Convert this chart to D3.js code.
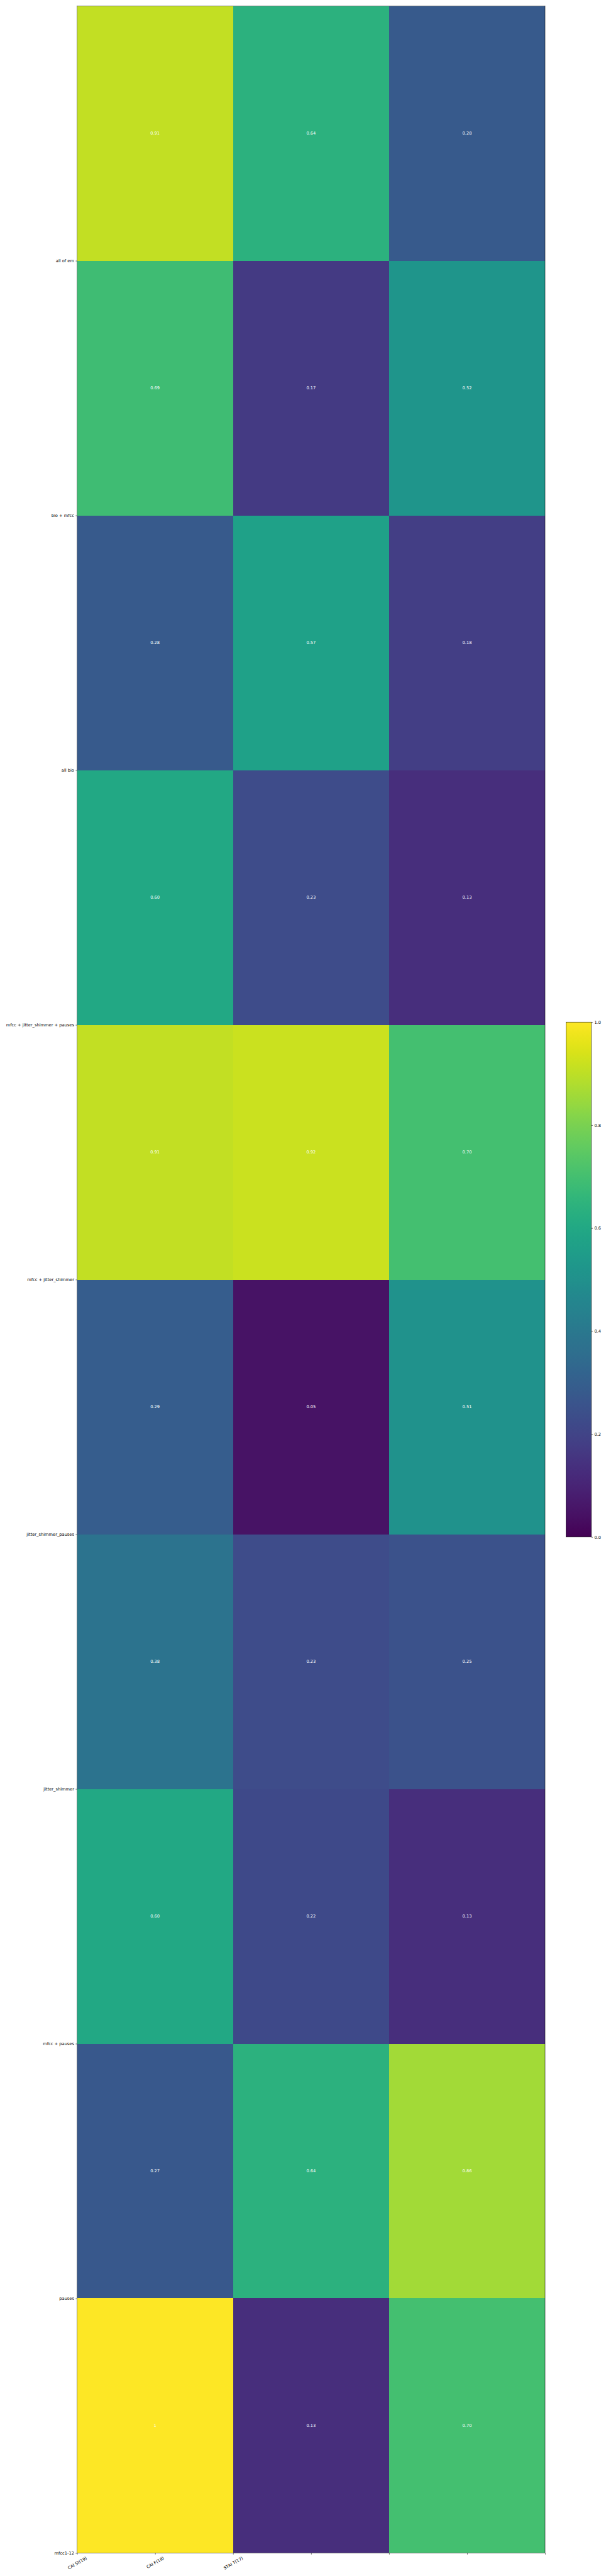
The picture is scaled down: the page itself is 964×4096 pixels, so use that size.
<!DOCTYPE html>
<html>
<head>
<meta charset="utf-8">
<script src="https://cdn.jsdelivr.net/npm/d3@7"></script>
<style>
  html, body { margin: 0; padding: 0; background: #ffffff; }
  svg { display: block; }
  text { font-family: "DejaVu Sans", sans-serif; }
</style>
</head>
<body>
<svg id="chart"></svg>
<script>
// ---------- data ----------
const xLabels = ["CAI St(19)", "CAI F(18)", "STAI T(17)"];
const yLabels = [
  "all of em",
  "bio + mfcc",
  "all bio",
  "mfcc + jitter_shimmer + pauses",
  "mfcc + jitter_shimmer",
  "jitter_shimmer_pauses",
  "jitter_shimmer",
  "mfcc + pauses",
  "pauses",
  "mfcc1-12"
];
const colCAISt = [0.91, 0.69, 0.28, 0.60, 0.91, 0.29, 0.38, 0.60, 0.27, 1.0];
const colCAIF  = [0.64, 0.17, 0.57, 0.23, 0.92, 0.05, 0.23, 0.22, 0.64, 0.13];
const colSTAIT = [0.28, 0.52, 0.18, 0.13, 0.70, 0.51, 0.25, 0.13, 0.86, 0.70];
const valueLabels = {
  "CAI St(19)": ["0.91","0.69","0.28","0.60","0.91","0.29","0.38","0.60","0.27","1"],
  "CAI F(18)":  ["0.64","0.17","0.57","0.23","0.92","0.05","0.23","0.22","0.64","0.13"],
  "STAI T(17)": ["0.28","0.52","0.18","0.13","0.70","0.51","0.25","0.13","0.86","0.70"]
};
const xTickValues = [0, 0.5, 1, 1.5, 2, 2.5, 3];
const yTickValues = [1, 2, 3, 4, 5, 6, 7, 8, 9, 10];
const cbarTicks = [0, 0.2, 0.4, 0.6, 0.8, 1.0];

// ---------- layout ----------
const S = 0.669;
const W = 964, H = 4096;
const plot = { left: 183.3 * S, right: 1296 * S, top: 14.3 * S, bottom: 6068 * S };
const cbar = { left: 1345.7 * S, right: 1406.3 * S, top: 2429.3 * S, bottom: 3653 * S };
const fontPx = 10 * S;
const tickLen = 3.5 * S;
const tickPad = 3.5 * S;
const lineW = 0.8 * S;

const svg = d3.select("#chart").attr("width", W).attr("height", H);

const columns = [colCAISt, colCAIF, colSTAIT];
const cells = [];
columns.forEach((col, ci) => col.forEach((v, ri) => cells.push({ ci, ri, v, label: valueLabels[xLabels[ci]][ri] })));

const x = d3.scaleLinear().domain([0, 3]).range([plot.left, plot.right]);
const y = d3.scaleLinear().domain([0, 10]).range([plot.top, plot.bottom]);
const color = d3.scaleSequential(d3.interpolateViridis).domain([0, 1]);

// cells
svg.append("g").selectAll("rect").data(cells).join("rect")
  .attr("x", d => x(d.ci))
  .attr("y", d => y(d.ri))
  .attr("width", d => x(d.ci + 1) - x(d.ci))
  .attr("height", d => y(d.ri + 1) - y(d.ri))
  .attr("fill", d => color(d.v))
  .attr("shape-rendering", "crispEdges");

// values
svg.append("g").selectAll("text").data(cells).join("text")
  .attr("x", d => x(d.ci + 0.5))
  .attr("y", d => y(d.ri + 0.5))
  .attr("text-anchor", "middle")
  .attr("dominant-baseline", "central")
  .attr("font-size", fontPx)
  .attr("fill", "#ffffff")
  .text(d => d.label);

// frame
svg.append("rect")
  .attr("x", plot.left).attr("y", plot.top)
  .attr("width", plot.right - plot.left).attr("height", plot.bottom - plot.top)
  .attr("fill", "none").attr("stroke", "#000").attr("stroke-width", lineW);

// y axis
const yAxis = d3.axisLeft(y).tickValues(yTickValues)
  .tickFormat(d => yLabels[d - 1]).tickSize(tickLen).tickPadding(tickPad);
const gy = svg.append("g").attr("transform", `translate(${plot.left},0)`).call(yAxis);
gy.select(".domain").remove();
gy.selectAll(".tick line").attr("stroke", "#000").attr("stroke-width", lineW);
gy.selectAll(".tick text").attr("font-size", fontPx).attr("fill", "#000")
  .attr("font-family", "DejaVu Sans, sans-serif");

// x axis
const xAxis = d3.axisBottom(x).tickValues(xTickValues)
  .tickFormat((d, i) => i < xLabels.length ? xLabels[i] : "").tickSize(tickLen).tickPadding(tickPad);
const gx = svg.append("g").attr("transform", `translate(0,${plot.bottom})`).call(xAxis);
gx.select(".domain").remove();
gx.selectAll(".tick line").attr("stroke", "#000").attr("stroke-width", lineW);
gx.selectAll(".tick text").each(function() {
  const t = d3.select(this);
  t.attr("font-size", fontPx).attr("fill", "#000").attr("font-family", "DejaVu Sans, sans-serif");
  const bb = this.getBBox();
  const w = bb.width, h = fontPx;
  const a = 30 * Math.PI / 180;
  const bbH = w * Math.sin(a) + h * Math.cos(a);
  const cy = tickLen + tickPad + bbH / 2;
  t.attr("y", null).attr("dy", null)
    .attr("text-anchor", "middle")
    .attr("dominant-baseline", "central")
    .attr("transform", `translate(0,${cy}) rotate(-30)`);
});

// colorbar
const defs = svg.append("defs");
const grad = defs.append("linearGradient").attr("id", "vir")
  .attr("x1", "0").attr("y1", "1").attr("x2", "0").attr("y2", "0");
d3.range(0, 1.0001, 0.02).forEach(t => {
  grad.append("stop").attr("offset", t).attr("stop-color", d3.interpolateViridis(t));
});
const cy = d3.scaleLinear().domain([0, 1]).range([cbar.bottom, cbar.top]);
svg.append("rect")
  .attr("x", cbar.left).attr("y", cy(1))
  .attr("width", cbar.right - cbar.left).attr("height", cy(0) - cy(1))
  .attr("fill", "url(#vir)")
  .attr("stroke", "#000").attr("stroke-width", lineW);
const cAxis = d3.axisRight(cy).tickValues(cbarTicks).tickFormat(d3.format(".1f"))
  .tickSize(tickLen).tickPadding(tickPad);
const gc = svg.append("g").attr("transform", `translate(${cbar.right},0)`).call(cAxis);
gc.select(".domain").remove();
gc.selectAll(".tick line").attr("stroke", "#000").attr("stroke-width", lineW);
gc.selectAll(".tick text").attr("font-size", fontPx).attr("fill", "#000")
  .attr("font-family", "DejaVu Sans, sans-serif");
</script>
</body>
</html>
